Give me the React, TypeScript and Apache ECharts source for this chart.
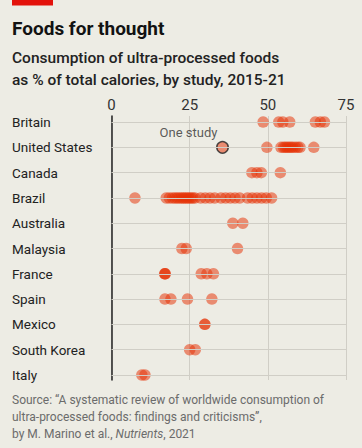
import React, { useEffect, useRef } from 'react';
import * as echarts from 'echarts';

const countries = ['Britain', 'United States', 'Canada', 'Brazil', 'Australia', 'Malaysia', 'France', 'Spain', 'Mexico', 'South Korea', 'Italy'];

const britain = [48.5, 53.5, 54.8, 57, 65.2, 66.8, 68.1];
const unitedStates = [49.7, 54.2, 55, 55.6, 56.2, 56.8, 57.4, 58, 58.8, 59.6, 60.3, 64.7];
const canada = [44.9, 46.5, 47.9, 54];
const brazil = [7.5, 17.5, 18.5, 19.5, 20.3, 21, 21.7, 22.4, 23, 23.6, 24.2, 24.8, 25.4, 26, 26.7, 28.5, 30, 31.5, 33, 35, 36.5, 38, 39.5, 41, 43.5, 45, 46.5, 48, 49.5, 51.2];
const australia = [38.8, 42];
const malaysia = [22.5, 23.9, 40.3];
const france = [17, 17.1, 17.2, 28.7, 30.5, 32.6];
const spain = [17.1, 19, 24.3, 32.1];
const mexico = [29.8, 29.9];
const southKorea = [25, 26.8];
const italy = [9.7, 10.7];

const studies = [britain, unitedStates, canada, brazil, australia, malaysia, france, spain, mexico, southKorea, italy];

const highlightCountry = 'United States';
const highlightValue = 35.5;
const highlightLabel = 'One study';

const xTicks = [0, 25, 50, 75];

const titleText = 'Foods for thought';
const subtitleLines = ['Consumption of ultra-processed foods', 'as % of total calories, by study, 2015-21'];
const sourceLines = [
  'Source: \u201cA systematic review of worldwide consumption of',
  'ultra-processed foods: findings and criticisms\u201d,',
];

const FONT = 'Roboto, "Noto Sans", sans-serif';
const BG = '#edece4';
const DOT = 'rgba(230,50,5,0.65)';

export default function App() {
  const ref = useRef<HTMLDivElement>(null);

  useEffect(() => {
    document.body.style.margin = '0';
    if (!ref.current) return;
    const chart = echarts.init(ref.current, undefined, { renderer: 'svg' });

    const points: number[][] = [];
    studies.forEach((vals, i) => vals.forEach((v) => points.push([v, i])));
    const hiIndex = countries.indexOf(highlightCountry);

    chart.setOption({
      animation: false,
      backgroundColor: BG,
      textStyle: { fontFamily: FONT },
      grid: { left: 111.5, right: 16, top: 116, bottom: 68, containLabel: false, outerBoundsMode: 'none' },
      xAxis: {
        type: 'value',
        position: 'top',
        min: xTicks[0],
        max: xTicks[xTicks.length - 1],
        interval: xTicks[1] - xTicks[0],
        axisLine: { show: false },
        axisTick: { show: false },
        splitLine: { show: true, lineStyle: { color: '#d0cec6', width: 1 } },
        axisLabel: { fontSize: 15, color: '#333', margin: 4, fontFamily: FONT },
      },
      yAxis: {
        type: 'value',
        inverse: true,
        min: -0.24,
        max: 10.2,
        axisLine: { show: true, lineStyle: { color: '#222', width: 1.5 } },
        axisTick: { show: false },
        splitLine: { show: false },
        axisLabel: {
          customValues: countries.map((_, i) => i),
          formatter: (v: number) => countries[Math.round(v)] ?? '',
          align: 'left',
          margin: 99.5,
          fontSize: 13.5,
          color: '#222',
          fontFamily: FONT,
        },
      },
      series: [
        {
          type: 'line',
          data: [],
          silent: true,
          z: 1,
          markLine: {
            silent: true,
            symbol: 'none',
            label: { show: false },
            lineStyle: { color: '#d0cec6', width: 1, type: 'solid' },
            data: countries.map((_, i) => ({ yAxis: i })),
          },
        },
        {
          type: 'scatter',
          z: 3,
          symbolSize: 11.5,
          itemStyle: { color: DOT },
          data: points,
        },
        {
          type: 'scatter',
          z: 4,
          symbolSize: 11.5,
          itemStyle: { color: DOT, borderColor: '#222', borderWidth: 1.5 },
          label: {
            show: true,
            position: 'top',
            distance: 2,
            offset: [-34, 0],
            formatter: highlightLabel,
            fontSize: 13,
            color: '#333',
            fontFamily: FONT,
          },
          data: [[highlightValue, hiIndex]],
        },
      ],
      graphic: [
        { type: 'rect', left: 12, top: 0, shape: { width: 41, height: 5.5 }, style: { fill: '#e3120b' } },
        {
          type: 'text', x: 12, y: 28,
          style: { text: titleText, font: `bold 19px ${FONT}`, fill: '#121212', verticalAlign: 'middle' },
        },
        ...subtitleLines.map((t, i) => ({
          type: 'text', x: 12, y: 58 + i * 22,
          style: { text: t, font: `500 15.5px ${FONT}`, fill: '#222', verticalAlign: 'middle' },
        })),
        ...sourceLines.map((t, i) => ({
          type: 'text', x: 12, y: 400 + i * 17,
          style: { text: t, font: `12px ${FONT}`, fill: '#6b6b6b', verticalAlign: 'middle' },
        })),
        {
          type: 'text', x: 12, y: 434,
          style: {
            text: 'by M. Marino et al., {i|Nutrients}, 2021',
            font: `12px ${FONT}`,
            fill: '#6b6b6b',
            verticalAlign: 'middle',
            rich: { i: { fontStyle: 'italic', fontSize: 12, fontFamily: FONT, fill: '#6b6b6b' } },
          },
        },
      ],
    });

    return () => chart.dispose();
  }, []);

  return <div ref={ref} style={{ position: 'absolute', left: 0, top: 0, width: 362, height: 448 }} />;
}
